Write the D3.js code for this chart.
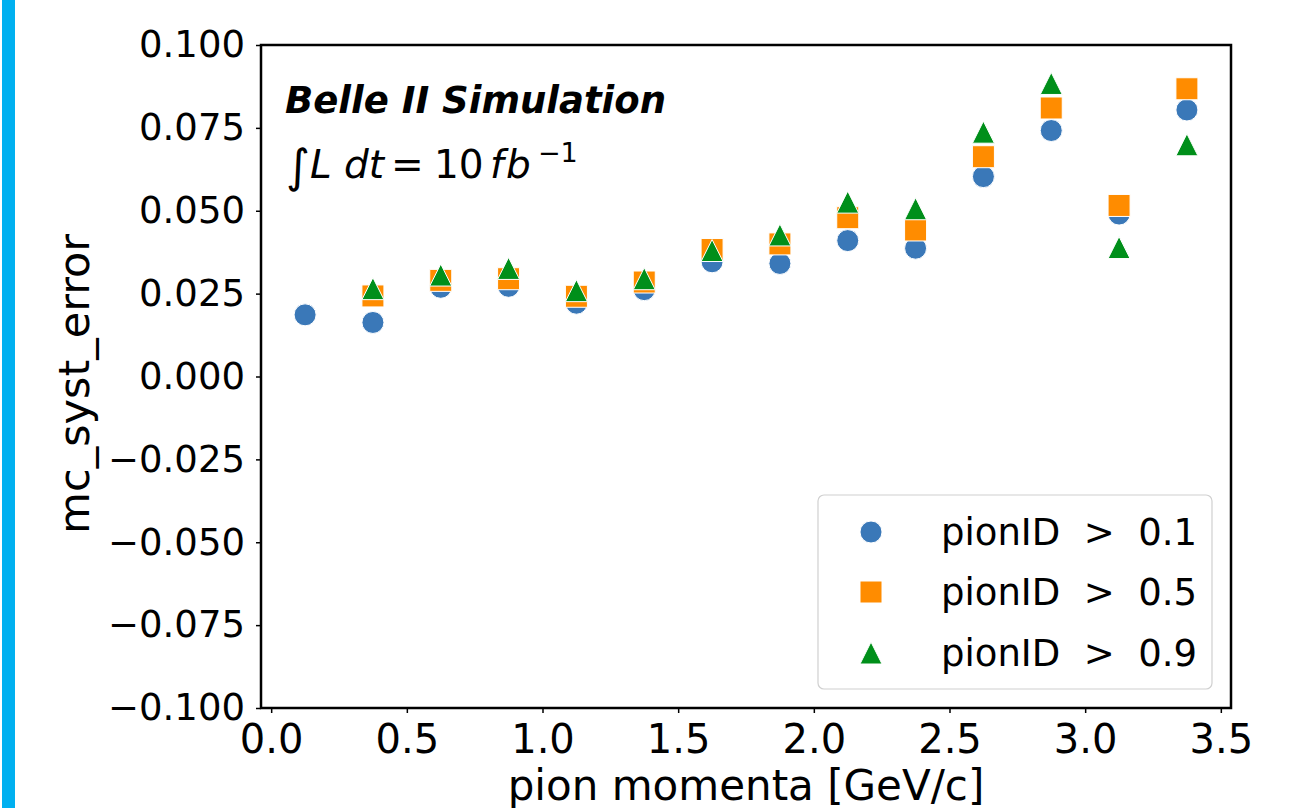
<!DOCTYPE html>
<html>
<head>
<meta charset="utf-8">
<script src="https://cdn.jsdelivr.net/npm/d3@7"></script>
<style>
  body { margin: 0; background: #fff; }
  svg text { font-family: "DejaVu Sans", sans-serif; fill: #000; }
</style>
</head>
<body>
<div id="chart-area"></div>
<script>
// momentum bin centres (GeV/c)
var momenta = [0.125, 0.375, 0.625, 0.875, 1.125, 1.375, 1.625, 1.875, 2.125, 2.375, 2.625, 2.875, 3.125, 3.375];

// mc_syst_error for each pionID cut (null = no point in that bin)
var err01 = [0.0186, 0.0163, 0.0269, 0.0272, 0.0221, 0.0262, 0.0346, 0.0341, 0.0410, 0.0387, 0.0603, 0.0742, 0.0490, 0.0804];
var err05 = [null, 0.0243, 0.0290, 0.0295, 0.0242, 0.0285, 0.0383, 0.0400, 0.0479, 0.0442, 0.0663, 0.0810, 0.0516, 0.0868];
var err09 = [null, 0.0265, 0.0306, 0.0326, 0.0259, 0.0295, 0.0380, 0.0427, 0.0526, 0.0506, 0.0737, 0.0884, 0.0389, 0.0699];

var seriesLabels = ["pionID  >  0.1", "pionID  >  0.5", "pionID  >  0.9"];
var xTicks = [0.0, 0.5, 1.0, 1.5, 2.0, 2.5, 3.0, 3.5];
var yTicks = [-0.100, -0.075, -0.050, -0.025, 0.000, 0.025, 0.050, 0.075, 0.100];

// plot box (pixels)
var W = 1300, H = 808;
var plotL = 261, plotR = 1231, plotT = 45, plotB = 708;

var svg = d3.select("#chart-area")
    .append("svg")
    .attr("width", W)
    .attr("height", H);

// blue strip on the left border
svg.append("rect")
    .attr("x", 2).attr("y", 0)
    .attr("width", 13).attr("height", H)
    .attr("fill", "#00b0f0");

var x = d3.scaleLinear().domain([-0.0375, 3.5375]).range([plotL, plotR]);
var y = d3.scaleLinear().domain([-0.1, 0.1]).range([plotB, plotT]);

// axes
var xAxis = svg.append("g")
    .attr("transform", "translate(0," + plotB + ")")
    .call(d3.axisBottom(x).tickValues(xTicks).tickFormat(d3.format(".1f")).tickSize(5).tickPadding(12));
xAxis.select(".domain").remove();
xAxis.selectAll("text").style("font-size", "40px");
xAxis.selectAll("line").attr("stroke-width", 1.5);

var yAxis = svg.append("g")
    .attr("transform", "translate(" + plotL + ",0)")
    .call(d3.axisLeft(y).tickValues(yTicks).tickFormat(d3.format(".3f")).tickSize(5).tickPadding(11));
yAxis.select(".domain").remove();
yAxis.selectAll("text").style("font-size", "37px");
yAxis.selectAll("line").attr("stroke-width", 1.5);

// frame
svg.append("rect")
    .attr("x", plotL).attr("y", plotT)
    .attr("width", plotR - plotL).attr("height", plotB - plotT)
    .attr("fill", "none")
    .attr("stroke", "#000")
    .attr("stroke-width", 2.5);

// axis labels
svg.append("text")
    .attr("x", (plotL + plotR) / 2)
    .attr("y", 800)
    .attr("text-anchor", "middle")
    .style("font-size", "42px")
    .text("pion momenta [GeV/c]");

svg.append("text")
    .attr("transform", "translate(89,384) rotate(-90)")
    .attr("text-anchor", "middle")
    .style("font-size", "43px")
    .text("mc_syst_error");

// markers
var markerSize = 22;
var styles = [
    { values: err01, color: "#3a78b8", symbol: "circle" },
    { values: err05, color: "#ff8c00", symbol: "square" },
    { values: err09, color: "#008f1a", symbol: "triangle" }
];

function markerPath(sym) {
    var s = markerSize / 2;
    if (sym === "triangle") return "M0," + (-s) + "L" + s + "," + s + "L" + (-s) + "," + s + "Z";
    if (sym === "square") return "M" + (-s) + "," + (-s) + "h" + (2 * s) + "v" + (2 * s) + "h" + (-2 * s) + "Z";
    return d3.symbol().type(d3.symbolCircle).size(Math.PI * s * s)();
}

styles.forEach(function(st) {
    var pts = momenta.map(function(m, i) { return { m: m, v: st.values[i] }; })
        .filter(function(d) { return d.v !== null; });
    svg.append("g").selectAll("path")
        .data(pts)
        .enter().append("path")
        .attr("transform", function(d) { return "translate(" + x(d.m) + "," + y(d.v) + ")"; })
        .attr("d", markerPath(st.symbol))
        .attr("fill", st.color)
        .attr("stroke", "#fff")
        .attr("stroke-width", 1);
});

// annotation
svg.append("text")
    .attr("x", 285).attr("y", 113)
    .style("font-size", "37px")
    .style("font-weight", "bold")
    .style("font-style", "italic")
    .text("Belle II Simulation");

var lumi = svg.append("text").attr("y", 178).style("font-size", "39px");
lumi.append("tspan").attr("x", 286).attr("y", 182).style("font-size", "46px").text("\u222B");
lumi.append("tspan").attr("x", 310).attr("y", 178).style("font-style", "italic").text("L");
lumi.append("tspan").attr("x", 344).style("font-style", "italic").text("dt");
lumi.append("tspan").attr("x", 391).text("=");
lumi.append("tspan").attr("x", 434).text("10");
lumi.append("tspan").attr("x", 490).style("font-style", "italic").text("f");
lumi.append("tspan").attr("x", 506).style("font-style", "italic").text("b");
lumi.append("tspan").attr("x", 538).attr("y", 162).style("font-size", "27px").text("\u22121");

// legend
var legend = svg.append("g");
legend.append("rect")
    .attr("x", 818).attr("y", 495)
    .attr("width", 394).attr("height", 194)
    .attr("rx", 6).attr("ry", 6)
    .attr("fill", "#fff")
    .attr("fill-opacity", 0.8)
    .attr("stroke", "#d0d0d0")
    .attr("stroke-width", 1.2);

var rowY = [532, 592, 653];
styles.forEach(function(st, i) {
    legend.append("path")
        .attr("transform", "translate(871," + rowY[i] + ")")
        .attr("d", markerPath(st.symbol))
        .attr("fill", st.color)
        .attr("stroke", "#fff")
        .attr("stroke-width", 1);
    legend.append("text")
        .attr("x", 941).attr("y", rowY[i])
        .attr("dy", "0.36em")
        .style("font-size", "37px")
        .style("white-space", "pre")
        .text(seriesLabels[i]);
});
</script>
</body>
</html>
